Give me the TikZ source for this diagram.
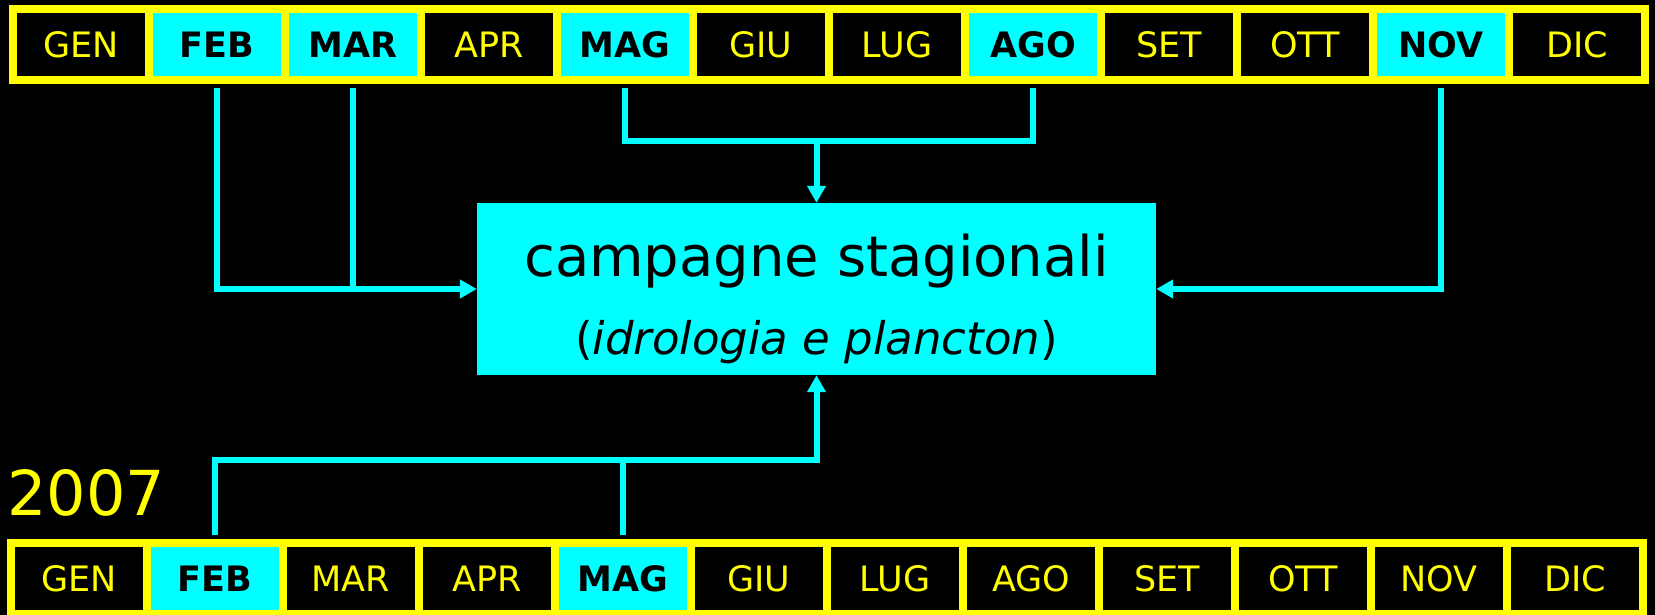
\documentclass[tikz,border=0pt]{standalone}
\usepackage{fontspec}
\setmainfont{DejaVu Sans}
\usetikzlibrary{arrows.meta}
\definecolor{cy}{HTML}{00FFFF}
\definecolor{ye}{HTML}{FFFF00}
\begin{document}
\begin{tikzpicture}[x=1pt,y=-1pt,
  mon/.style={draw=ye,line width=8pt,minimum width=136pt,minimum height=71pt,inner sep=0pt},
  off/.style={mon,fill=black,text=ye,font=\fontsize{35}{35}\selectfont},
  on/.style={mon,fill=cy,text=black,font=\fontsize{35}{35}\selectfont\bfseries},
  conn/.style={draw=cy,line width=6pt},
  arr/.style={conn,-{Triangle[length=17pt,width=18pt]}}]
\fill[black] (0,0) rectangle (1655,615);
\useasboundingbox (0,0) rectangle (1655,615);
% top row
\node[off] (t1) at (81,44.5) {GEN};
\node[on]  (t2) at (217,44.5) {FEB};
\node[on]  (t3) at (353,44.5) {MAR};
\node[off] (t4) at (489,44.5) {APR};
\node[on]  (t5) at (625,44.5) {MAG};
\node[off] (t6) at (761,44.5) {GIU};
\node[off] (t7) at (897,44.5) {LUG};
\node[on]  (t8) at (1033,44.5) {AGO};
\node[off] (t9) at (1169,44.5) {SET};
\node[off] (t10) at (1305,44.5) {OTT};
\node[on]  (t11) at (1441,44.5) {NOV};
\node[off] (t12) at (1577,44.5) {DIC};
% bottom row
\node[off] (b1) at (79,578.5) {GEN};
\node[on]  (b2) at (215,578.5) {FEB};
\node[off] (b3) at (351,578.5) {MAR};
\node[off] (b4) at (487,578.5) {APR};
\node[on]  (b5) at (623,578.5) {MAG};
\node[off] (b6) at (759,578.5) {GIU};
\node[off] (b7) at (895,578.5) {LUG};
\node[off] (b8) at (1031,578.5) {AGO};
\node[off] (b9) at (1167,578.5) {SET};
\node[off] (b10) at (1303,578.5) {OTT};
\node[off] (b11) at (1439,578.5) {NOV};
\node[off] (b12) at (1575,578.5) {DIC};
% year
\node[anchor=base west,text=ye,font=\fontsize{62}{62}\selectfont,inner sep=0pt] (yr) at (7,515) {2007};
% central box
\node[fill=cy,minimum width=679pt,minimum height=172pt,inner sep=0pt] (box) at (816.5,289) {};
\node[anchor=base,font=\fontsize{56}{56}\selectfont,inner sep=0pt] (l1) at (816.5,276) {campagne stagionali};
\node[anchor=base,font=\fontsize{45}{45}\selectfont,inner sep=0pt] (l2) at (816.5,354) {(\textit{idrologia e plancton})};
% junctions
\coordinate (jt) at (816.5,141);
\coordinate (jb) at (816.5,460);
% connectors
\draw[arr] ([yshift=-4pt]t2.south) |- (box.west);
\draw[conn] ([yshift=-4pt]t3.south) -- (t3.south |- box.west);
\draw[conn] ([yshift=-4pt]t5.south) |- (jt) -- (t8.south |- jt) -- ([yshift=-4pt]t8.south);
\draw[arr] (jt) -- (box.north);
\draw[arr] ([yshift=-4pt]t11.south) |- (box.east);
\draw[arr] ([yshift=4pt]b2.north) |- (jb) -- (box.south);
\draw[conn] ([yshift=4pt]b5.north) -- (b5.north |- jb);
\end{tikzpicture}
\end{document}
